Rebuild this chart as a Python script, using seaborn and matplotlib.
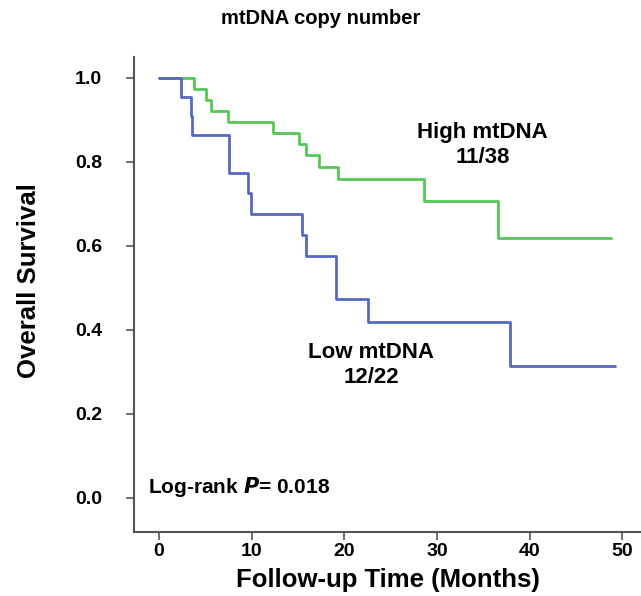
import numpy as np
import pandas as pd
import matplotlib
matplotlib.use('Agg')
import matplotlib.pyplot as plt
import seaborn as sns

# Kaplan-Meier step values
high_time = [0, 3.8, 5.05, 5.6, 7.4, 12.3, 15.05, 15.85, 17.3, 19.3, 28.6, 36.6, 48.8]
high_surv = [1.0, 0.974, 0.947, 0.921, 0.895, 0.868, 0.842, 0.816, 0.789, 0.760, 0.707, 0.620, 0.620]

low_time = [0, 2.35, 3.4, 3.6, 7.5, 9.6, 9.9, 15.4, 15.9, 19.1, 22.6, 37.9, 49.2]
low_surv = [1.0, 0.955, 0.909, 0.864, 0.773, 0.727, 0.677, 0.627, 0.577, 0.474, 0.420, 0.315, 0.315]

x_ticks = [0, 10, 20, 30, 40, 50]
y_ticks = [0.0, 0.2, 0.4, 0.6, 0.8, 1.0]

green = '#55C855'
blue = '#5568C2'

sns.set_style('white')
plt.rcParams['font.family'] = ['Liberation Sans', 'DejaVu Sans']
plt.rcParams['font.weight'] = 'bold'
plt.rcParams['text.color'] = 'black'
plt.rcParams['axes.labelcolor'] = 'black'

fig = plt.figure(figsize=(6.41, 5.96), dpi=100)
ax = fig.add_axes([134 / 641, 64 / 596, (641 - 134) / 641, 475 / 596])

high_df = pd.DataFrame({'time': high_time, 'surv': high_surv})
low_df = pd.DataFrame({'time': low_time, 'surv': low_surv})

sns.lineplot(data=high_df, x='time', y='surv', ax=ax, color=green, lw=2,
             drawstyle='steps-post', estimator=None, sort=False)
sns.lineplot(data=low_df, x='time', y='surv', ax=ax, color=blue, lw=2,
             drawstyle='steps-post', estimator=None, sort=False)

ax.set_xlim(-2.7, 52)
ax.set_ylim(-0.081, 1.05)
ax.set_xticks(x_ticks)
ax.set_yticks(y_ticks)
ax.set_yticklabels([f'{v:.1f}' for v in y_ticks])
ax.tick_params(axis='both', direction='out', length=6, width=1.2, color='#555555',
               labelcolor='black', labelsize=14, bottom=True, left=True)
ax.tick_params(axis='x', pad=2)
ax.tick_params(axis='y', pad=17)
for lab in ax.get_xticklabels() + ax.get_yticklabels():
    lab.set_fontweight('bold')

for s in ['top', 'right']:
    ax.spines[s].set_visible(False)
for s in ['left', 'bottom']:
    ax.spines[s].set_color('#555555')
    ax.spines[s].set_linewidth(1.5)

ax.set_xlabel('Follow-up Time (Months)', fontsize=18.5, fontweight='bold', labelpad=6)
ax.set_ylabel('Overall Survival', fontsize=18.5, fontweight='bold')
ax.yaxis.set_label_coords(-0.184, 0.53)
fig.text(321 / 641, 1 - 18 / 596, 'mtDNA copy number', ha='center', va='center',
         fontsize=14.5, fontweight='bold')

ax.text(34.9, 0.84, 'High mtDNA\n11/38', ha='center', va='center', fontsize=16,
        fontweight='bold', linespacing=1.25)
ax.text(22.9, 0.317, 'Low mtDNA\n12/22', ha='center', va='center', fontsize=16,
        fontweight='bold', linespacing=1.25)
ax.text(-1.2, 0.025, r'Log-rank $\boldsymbol{P}$= 0.018', ha='left', va='center',
        fontsize=15, fontweight='bold')

fig.savefig('out.png', dpi=100)
